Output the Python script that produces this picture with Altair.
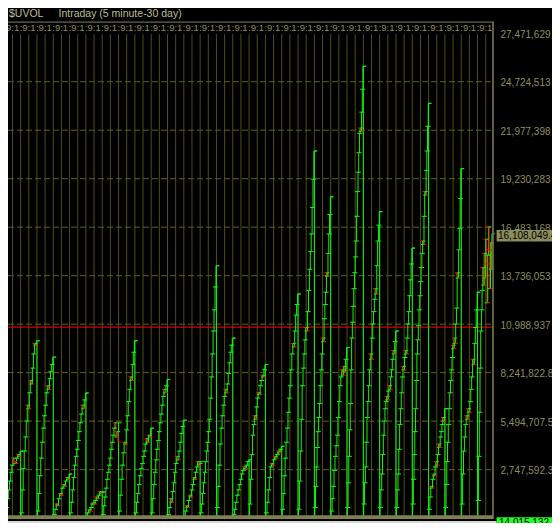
import altair as alt
import pandas as pd

# ---------------- data (cumulative $UVOL, millions, per trading day) ----------------
day00 = [0.2, 0.6, 1.1, 1.6, 2.1, 2.6, 3.0, 3.4, 3.2, 3.1, 3.4, 3.6, 3.5, 3.79]
day01 = [0.3, 1.6, 2.8, 3.8, 4.6, 5.5, 6.4, 6.2, 7.1, 7.8, 7.6, 8.5, 9.3, 9.9, 9.8, 10.05]
day02 = [0.4, 1.4, 2.4, 3.4, 4.3, 5.1, 5.8, 6.4, 7.1, 7.5, 7.3, 7.9, 8.3, 8.7, 9.12]
day03 = [0.2, 0.5, 0.8, 0.7, 1.1, 1.4, 1.3, 1.7, 1.9, 1.8, 2.1, 2.3, 2.2, 2.5]
day04 = [0.3, 0.9, 1.6, 2.3, 3.0, 3.5, 3.9, 4.4, 4.9, 5.4, 5.9, 6.4, 6.2, 6.7, 7.09]
day05 = [0.1, 0.3, 0.5, 0.4, 0.6, 0.8, 0.9, 0.8, 1.0, 1.2, 1.1, 1.3, 1.5, 1.4, 1.45]
day06 = [0.2, 0.7, 1.2, 1.7, 2.2, 2.6, 3.0, 3.4, 3.9, 4.3, 4.7, 5.1, 5.4, 4.6, 4.9, 4.3]
day07 = [0.4, 1.3, 2.2, 3.0, 3.7, 4.3, 4.2, 5.0, 5.8, 6.6, 7.3, 8.0, 7.8, 8.7, 9.4, 10.05]
day08 = [0.3, 0.9, 1.4, 1.9, 2.4, 2.8, 3.1, 3.5, 3.8, 4.2, 4.5, 4.3, 4.7, 4.6, 5.1]
day09 = [0.3, 1.1, 1.9, 2.6, 3.3, 3.9, 4.4, 4.9, 5.4, 5.9, 6.4, 6.9, 7.3, 7.1, 7.5, 7.86]
day10 = [0.2, 0.6, 1.1, 0.9, 1.5, 2.0, 2.6, 3.1, 3.5, 3.3, 3.8, 4.3, 4.8, 5.2, 5.55]
day11 = [0.1, 0.4, 0.7, 0.6, 1.0, 1.3, 1.2, 1.6, 1.9, 2.3, 2.2, 2.6, 2.9, 3.2, 3.0, 3.1]
day12 = [0.3, 0.8, 1.4, 2.0, 2.6, 3.2, 3.8, 4.3, 4.9, 5.6, 6.8, 8.0, 9.3, 10.6, 11.8, 13.1, 14.3]
day13 = [0.6, 1.8, 3.0, 4.2, 5.1, 5.8, 6.4, 6.9, 7.3, 7.1, 7.6, 8.2, 8.8, 9.4, 9.8, 10.2]
day14 = [0.2, 0.5, 0.9, 1.3, 1.6, 1.9, 2.2, 2.5, 2.7, 2.9, 2.8, 3.0, 3.2, 3.3]
day15 = [0.8, 2.2, 3.6, 4.7, 5.3, 5.8, 5.6, 6.3, 6.8, 7.1, 7.0, 7.5, 7.8, 8.1, 8.0, 8.4, 8.7]
day16 = [0.3, 0.9, 1.6, 2.3, 2.9, 3.1, 3.0, 3.3, 3.5, 3.4, 3.6, 3.8, 3.7, 3.9, 4.07]
day17 = [0.5, 1.4, 2.4, 3.4, 4.3, 5.1, 6.0, 6.8, 7.5, 8.4, 9.3, 9.9, 9.7, 10.6, 11.5, 12.1, 12.7]
day18 = [0.5, 2.1, 3.8, 5.6, 7.5, 8.5, 9.3, 10.1, 10.8, 10.6, 11.7, 12.9, 14.1, 15.1, 16.1, 17.6, 19.2, 20.8]
day19 = [0.6, 1.8, 2.9, 4.0, 4.9, 5.7, 6.5, 7.5, 8.4, 9.3, 10.2, 10.0, 11.3, 12.1, 12.8, 13.9, 13.7, 15.0, 16.1, 17.2, 18.2]
day20 = [0.4, 1.1, 1.8, 2.7, 3.5, 4.1, 4.7, 5.7, 6.6, 7.5, 8.0, 8.4, 8.1, 8.6, 8.3, 9.0, 9.67]
day21 = [0.6, 2.0, 3.5, 5.0, 6.5, 8.4, 10.2, 11.1, 12.0, 13.0, 13.9, 14.8, 15.7, 17.1, 18.5, 19.6, 20.7, 21.8, 22.1, 21.9, 23.0, 24.3, 25.6]
day22 = [0.8, 2.0, 2.9, 4.3, 5.7, 6.6, 7.5, 8.4, 9.3, 9.0, 10.2, 11.0, 11.7, 12.4, 13.0, 12.7, 14.3, 15.7, 16.6, 17.36]
day23 = [0.6, 1.6, 2.5, 3.6, 4.7, 5.5, 6.2, 6.6, 6.9, 6.7, 7.2, 7.5, 7.3, 8.0, 8.4, 9.0, 9.5, 9.3, 10.0, 10.6]
day24 = [0.6, 1.6, 2.5, 3.9, 5.3, 6.2, 7.1, 8.0, 8.6, 8.4, 9.1, 9.5, 9.3, 10.2, 11.0, 11.7, 12.6, 13.5, 14.4, 15.3]
day25 = [0.8, 2.2, 3.6, 4.9, 6.2, 7.8, 9.3, 10.1, 10.9, 11.8, 12.6, 13.4, 14.2, 15.0, 15.7, 15.5, 17.1, 18.5, 18.3, 19.7, 20.8, 22.2, 23.5]
day26 = [0.5, 1.2, 1.8, 1.7, 2.2, 2.5, 2.4, 2.9, 3.2, 3.0, 3.6, 4.2, 4.0, 4.6, 4.9, 5.3, 5.7, 5.5, 6.2]
day27 = [0.6, 1.9, 3.2, 4.3, 5.3, 6.2, 7.1, 7.8, 8.4, 9.1, 9.8, 9.6, 10.2, 9.9, 11.0, 11.9, 13.9, 13.6, 15.2, 16.4, 18.1, 19.8]
day28 = [0.8, 2.5, 3.8, 4.6, 5.3, 5.8, 5.6, 6.2, 6.0, 6.6, 7.3, 8.0, 9.0, 8.7, 9.9, 10.8, 11.8, 12.8]
day29 = [1.0, 3.5, 6.0, 8.5, 10.6, 11.8, 12.9, 14.2, 13.2, 15.0, 13.6, 15.8, 14.4, 12.2, 14.9, 16.5, 15.2, 13.0, 15.6, 14.1, 16.108049]

tick_values = [2747592, 5494707, 8241822, 10988937, 13736053, 16483168,
               19230283, 21977398, 24724513, 27471629]
tick_labels = ["2,747,592.3", "5,494,707.5", "8,241,822.8", "10,988,937", "13,736,053",
               "16,483,168", "19,230,283", "21,977,398", "24,724,513", "27,471,629"]
time_label = ":9:1"
last_value = 16108049
last_label = "16,108,049.4"
cursor_label = "14,015,132"
red_level = 10820000
title_symbol = "$UVOL"
title_text = "Intraday (5 minute-30 day)"

# ---------------- styling ----------------
GREEN = "#10f510"
RED = "#ff0a0a"
GRID = "#4e4e16"
HGRID = "#5f5f24"
FRAME = "#80805a"
LABEL = "#8e8e5e"
HEAD = "#bdbd95"
W, H = 485, 497.5
FONT = "Liberation Sans"

xscale = alt.Scale(domain=[0.2257, 29.946], nice=False, zero=False)
yscale = alt.Scale(domain=[-54942, 28130304], nice=False, zero=False)
cscale = alt.Scale(domain=["up", "down"], range=[GREEN, RED])

days = [day00, day01, day02, day03, day04, day05, day06, day07, day08, day09,
        day10, day11, day12, day13, day14, day15, day16, day17, day18, day19,
        day20, day21, day22, day23, day24, day25, day26, day27, day28, day29]

rows = []
for i, vals in enumerate(days):
    span = 0.9 if i == len(days) - 1 else 1.0
    n = len(vals)
    prev = 0.0
    for j, v in enumerate(vals):
        t = i + (j + 0.5) / n * span
        o, c = prev, v
        rows.append(dict(t=t, open=o * 1e6, close=c * 1e6,
                         low=min(o, c) * 1e6, high=max(o, c) * 1e6,
                         dir="up" if c >= o else "down"))
        prev = v
bars = pd.DataFrame(rows)

bounds = pd.DataFrame([dict(t=i + 1, base=0.0, top=max(days[i]) * 1e6)
                       for i in range(len(days) - 1)])

vgrid = pd.DataFrame(dict(t=[k / 2 for k in range(1, 60)],
                          y0=[27420000] * 59, y1=[-54942] * 59))
hgrid = pd.DataFrame(dict(value=tick_values[:-1]))
ylabels = pd.DataFrame(dict(value=tick_values, label=tick_labels))
tlabels = pd.DataFrame(dict(t=list(range(0, 30)), label=[time_label] * 30))

X = lambda f: alt.X(f, scale=xscale, axis=None)
Y = lambda f: alt.Y(f, scale=yscale, axis=None)

vg = alt.Chart(vgrid).mark_rule(color=GRID, strokeWidth=1).encode(
    x=X("t:Q"), y=Y("y0:Q"), y2="y1:Q")
hg = alt.Chart(hgrid).mark_rule(color=HGRID, strokeWidth=1, strokeDash=[6, 3]).encode(
    y=Y("value:Q"), x=alt.value(0), x2=alt.value(W))
redline = alt.Chart(pd.DataFrame(dict(value=[red_level]))).mark_rule(
    color="#ff0000", strokeWidth=1).encode(y=Y("value:Q"), x=alt.value(0), x2=alt.value(W))

brule = alt.Chart(bounds).mark_rule(color=GREEN, strokeWidth=1).encode(
    x=X("t:Q"), y=Y("base:Q"), y2="top:Q")
btick = alt.Chart(bounds).mark_tick(orient="horizontal", size=3, thickness=1,
                                    xOffset=1.5, opacity=1, color=GREEN).encode(
    x=X("t:Q"), y=Y("top:Q"))

col = alt.Color("dir:N", scale=cscale, legend=None)
rule = alt.Chart(bars).mark_rule(strokeWidth=1).encode(
    x=X("t:Q"), y=Y("low:Q"), y2="high:Q", color=col)
otick = alt.Chart(bars).mark_tick(orient="horizontal", size=3, thickness=1,
                                  xOffset=-1.5, opacity=1).encode(
    x=X("t:Q"), y=Y("open:Q"), color=col)
ctick = alt.Chart(bars).mark_tick(orient="horizontal", size=3, thickness=1,
                                  xOffset=1.5, opacity=1).encode(
    x=X("t:Q"), y=Y("close:Q"), color=col)

band = alt.Chart(pd.DataFrame(dict(a=[0]))).mark_rect(color="#7f7f50").encode(
    x=alt.value(0), x2=alt.value(W), y=alt.value(493.7), y2=alt.value(H))
topline = alt.Chart(pd.DataFrame(dict(a=[0]))).mark_rule(color=FRAME, strokeWidth=1).encode(
    x=alt.value(0), x2=alt.value(W), y=alt.value(0.5))
rightline = alt.Chart(pd.DataFrame(dict(a=[0]))).mark_rule(color=FRAME, strokeWidth=1.5).encode(
    x=alt.value(W), y=alt.value(0), y2=alt.value(H))
bottomline = alt.Chart(pd.DataFrame(dict(a=[0]))).mark_rect(color="#d8d8d0").encode(
    x=alt.value(0), x2=alt.value(488.6), y=alt.value(499.4), y2=alt.value(501.5))

tl = alt.Chart(tlabels).mark_text(align="left", baseline="middle", dx=-1, fontSize=9.5,
                                  font=FONT, color=LABEL).encode(
    x=X("t:Q"), y=alt.value(6), text="label:N")
yl = alt.Chart(ylabels).mark_text(align="left", baseline="middle", dy=1.5, fontSize=10,
                                  font=FONT, color=LABEL).encode(
    x=alt.value(492.5), y=Y("value:Q"), text="label:N")

lastdf = pd.DataFrame(dict(value=[last_value], label=[last_label]))
lastbox = alt.Chart(lastdf).mark_tick(orient="horizontal", size=55.4, thickness=11.6,
                                      opacity=1, color="#8c8c5c", yOffset=2).encode(
    x=alt.value(516.3), y=Y("value:Q"))
lasttxt = alt.Chart(lastdf).mark_text(align="left", baseline="middle", dy=2, fontSize=10,
                                      font=FONT, color="#000000").encode(
    x=alt.value(490), y=Y("value:Q"), text="label:N")

curbox = alt.Chart(pd.DataFrame(dict(a=[0]))).mark_rect(color="#22ff22").encode(
    x=alt.value(488.6), x2=alt.value(545), y=alt.value(495.6), y2=alt.value(502))
curtxt = alt.Chart(pd.DataFrame(dict(label=[cursor_label]))).mark_text(
    align="left", baseline="top", fontSize=10, font=FONT, color="#000000").encode(
    x=alt.value(491), y=alt.value(496.6), text="label:N")

head1 = alt.Chart(pd.DataFrame(dict(label=[title_symbol]))).mark_text(
    align="left", baseline="middle", fontSize=10.5, font=FONT, color=HEAD).encode(
    x=alt.value(1), y=alt.value(-7.2), text="label:N")
head2 = alt.Chart(pd.DataFrame(dict(label=[title_text]))).mark_text(
    align="left", baseline="middle", fontSize=10.5, font=FONT, color=HEAD).encode(
    x=alt.value(50.5), y=alt.value(-7.2), text="label:N")

chart = alt.layer(
    vg, hg, redline, brule, btick, rule, otick, ctick,
    band, topline, rightline, bottomline,
    tl, yl, lastbox, lasttxt, curbox, curtxt, head1, head2,
).properties(
    width=W, height=H,
    padding={"left": 0, "top": 13.6, "right": 59, "bottom": 3.9},
    autosize=alt.AutoSizeParams(type="none"),
    background="#000000",
).configure_view(strokeWidth=0)

chart.save("out.html", embed_options={"renderer": "svg", "actions": False})
